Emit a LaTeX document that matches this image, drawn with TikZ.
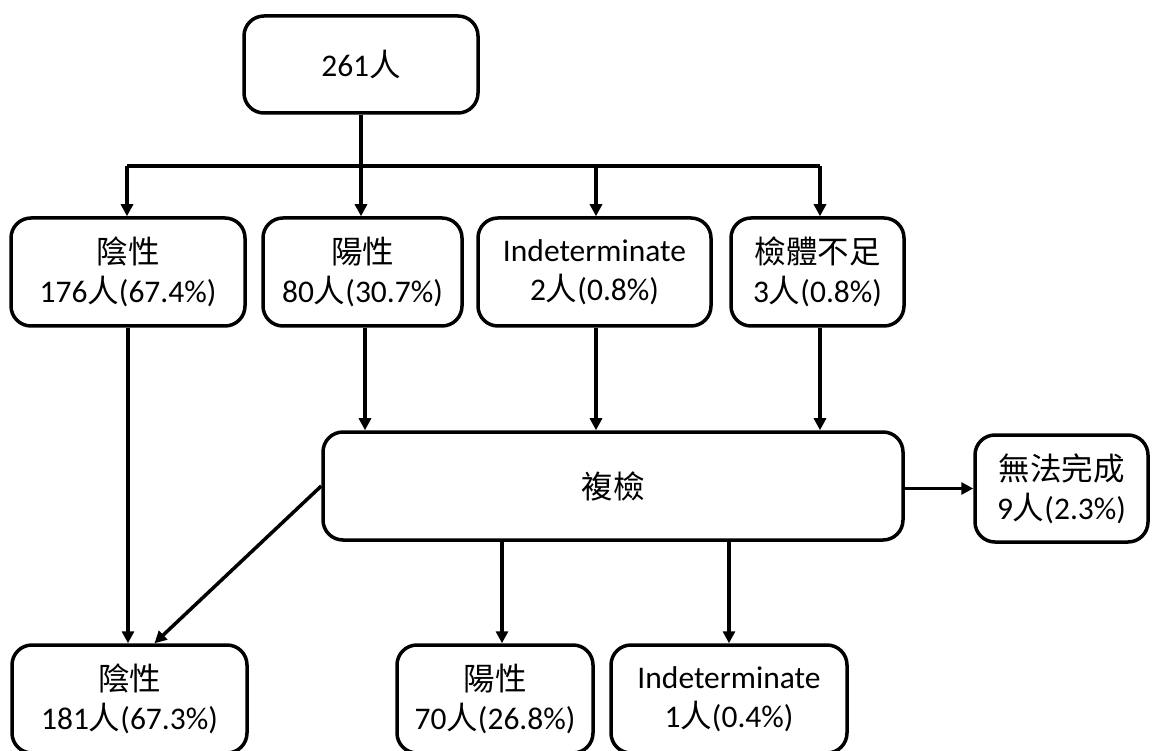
\documentclass[tikz,border=0pt]{standalone}
\usepackage{fontspec}
\setmainfont{Carlito}
\newfontfamily\cjk{Noto Sans CJK TC}
\usetikzlibrary{arrows.meta}
\tikzset{
  box/.style={draw=black, line width=3.5pt, rounded corners=20pt, align=center,
    inner sep=0pt, font=\fontsize{31.5}{39}\selectfont},
  conn/.style={line width=3.5pt, -{Triangle[length=12pt,width=12pt]}},
  plain/.style={line width=3.5pt}
}
\newcommand{\ren}{{\cjk 人}}
\begin{document}
\begin{tikzpicture}[x=1pt,y=-1pt]
\fill[white] (0,0) rectangle (1152,751);
\useasboundingbox (0,0) rectangle (1152,751);
\clip (0,0) rectangle (1152,751);
\node[box, minimum width=234pt, minimum height=97pt] (top) at (361,64.5) {261\ren};
\node[box, minimum width=234pt, minimum height=108pt] (n1) at (128,272) {{\cjk 陰性}\\176\ren(67.4\%)};
\node[box, minimum width=199pt, minimum height=108pt] (p1) at (362.5,272) {{\cjk 陽性}\\80\ren(30.7\%)};
\node[box, minimum width=233pt, minimum height=108pt] (i1) at (594.5,272) {Indeterminate\\2\ren(0.8\%)};
\node[box, minimum width=173pt, minimum height=108pt] (s1) at (817.5,272) {{\cjk 檢體不足}\\3\ren(0.8\%)};
\node[box, minimum width=580pt, minimum height=108pt] (re) at (613,486) {{\cjk 複檢}};
\node[box, minimum width=173pt, minimum height=107pt] (fail) at (1061.5,488.5) {{\cjk 無法完成}\\9\ren(2.3\%)};
\node[box, minimum width=235pt, minimum height=108pt] (n2) at (129.5,699) {{\cjk 陰性}\\181\ren(67.3\%)};
\node[box, minimum width=196pt, minimum height=108pt] (p2) at (495,699) {{\cjk 陽性}\\70\ren(26.8\%)};
\node[box, minimum width=236pt, minimum height=108pt] (i2) at (729,699) {Indeterminate\\1\ren(0.4\%)};
\coordinate (barL) at (127,166);
\coordinate (barR) at (820,166);
\coordinate (barI) at (596,166);
\draw[plain] (barL) -- (barR);
\draw[conn] (top.south) -- (top.south |- p1.north);
\draw[conn] (barL) -- (barL |- n1.north);
\draw[conn] (barI) -- (barI |- i1.north);
\draw[conn] (barR) -- (barR |- s1.north);
\draw[conn] (n1.south) -- (n1.south |- n2.north);
\draw[conn] ([xshift=2.5pt]p1.south) -- ([xshift=2.5pt]p1.south |- re.north);
\draw[conn] ([xshift=1.5pt]i1.south) -- ([xshift=1.5pt]i1.south |- re.north);
\draw[conn] ([xshift=2.5pt]s1.south) -- ([xshift=2.5pt]s1.south |- re.north);
\draw[conn] (re.west) -- ([xshift=25pt]n2.north);
\draw[conn] (re.east |- fail.west) -- (fail.west);
\draw[conn] ([xshift=7pt]p2.north |- re.south) -- ([xshift=7pt]p2.north);
\draw[conn] (i2.north |- re.south) -- (i2.north);
\end{tikzpicture}
\end{document}
